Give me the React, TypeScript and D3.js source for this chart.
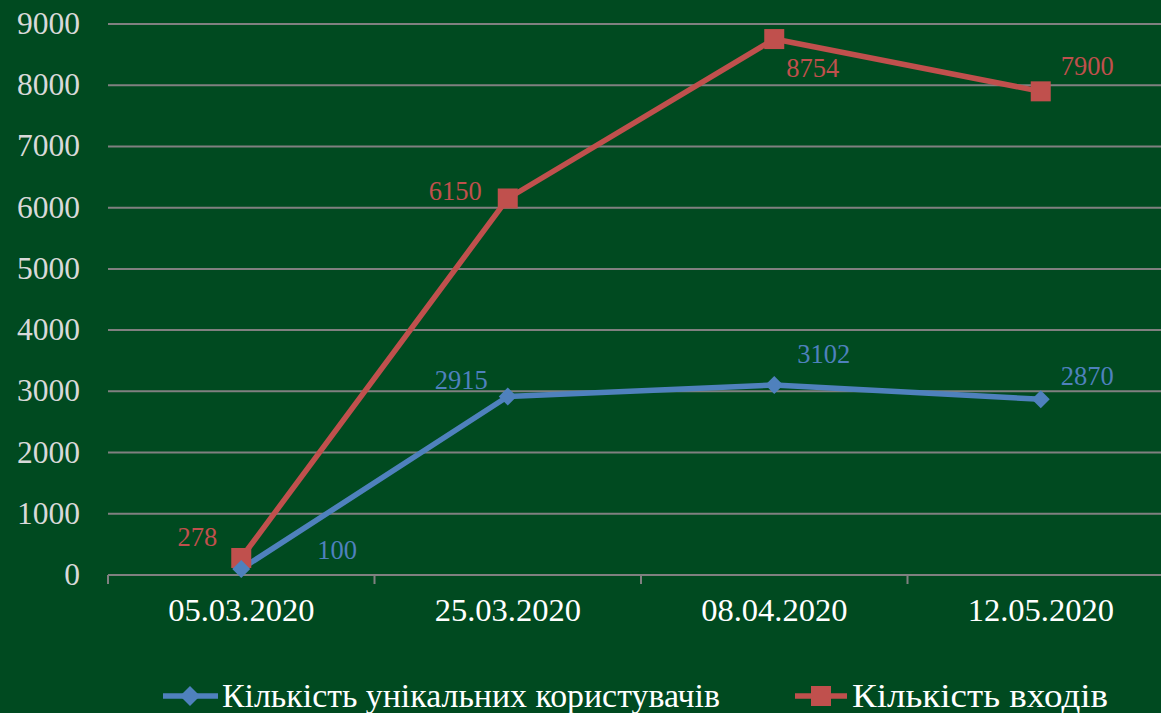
import React from "react";
import * as d3 from "d3";

const categories = ["05.03.2020", "25.03.2020", "08.04.2020", "12.05.2020"];
const uniqueUsers = [100, 2915, 3102, 2870];
const logins = [278, 6150, 8754, 7900];
const yTicks = [0, 1000, 2000, 3000, 4000, 5000, 6000, 7000, 8000, 9000];
const seriesNames = ["Кількість унікальних користувачів", "Кількість входів"];

const W = 1161, H = 713;
const BG = "#004a20";
const BLUE = "#4f81bd";
const RED = "#c0504d";
const GRID = "#808080";
const FONT = "'Liberation Serif', 'Times New Roman', serif";

// label offsets [dx, dy, anchor]
const blueLabelPos: [number, number, string][] = [
  [76, -10, "start"], [-20, -8, "end"], [23, -22, "start"], [20, -14, "start"],
];
const redLabelPos: [number, number, string][] = [
  [-24, -12, "end"], [-26, 2, "end"], [12, 38, "start"], [20, -16, "start"],
];

export default function App() {
  const x = d3.scaleBand<string>().domain(categories).range([108, 1174]).padding(0);
  const y = d3.scaleLinear().domain([0, 9000]).range([575, 24]);
  const cx = (c: string) => (x(c) as number) + x.bandwidth() / 2;
  const line = d3.line<number>().x((_, i) => cx(categories[i])).y((d) => y(d));
  const tickXs = categories.map((c) => x(c) as number).concat([1174]);

  return (
    <svg width={W} height={H} style={{ position: "absolute", left: 0, top: 0, display: "block" }}>
      <rect width={W} height={H} fill={BG} />
      {yTicks.map((t) => (
        <g key={t}>
          {t > 0 && <line x1={108} x2={W} y1={y(t)} y2={y(t)} stroke={GRID} strokeWidth={2} />}
          <text x={80} y={y(t) + 10} textAnchor="end" fill="#d9d9d9" fontFamily={FONT} fontSize={31.5}>
            {t}
          </text>
        </g>
      ))}
      <line x1={108} x2={W} y1={y(0)} y2={y(0)} stroke={GRID} strokeWidth={2} />
      {tickXs.map((tx, i) => (
        <line key={i} x1={tx} x2={tx} y1={y(0)} y2={y(0) + 9} stroke={GRID} strokeWidth={2} />
      ))}
      {categories.map((c) => (
        <text key={c} x={cx(c)} y={621} textAnchor="middle" fill="#ffffff" fontFamily={FONT} fontSize={32.5}>
          {c}
        </text>
      ))}
      <path d={line(logins) || ""} fill="none" stroke={RED} strokeWidth={5.5} strokeLinejoin="round" />
      <path d={line(uniqueUsers) || ""} fill="none" stroke={BLUE} strokeWidth={5.5} strokeLinejoin="round" />
      {logins.map((v, i) => (
        <rect key={i} x={cx(categories[i]) - 10} y={y(v) - 10} width={20} height={20} fill={RED} />
      ))}
      {uniqueUsers.map((v, i) => {
        const px = cx(categories[i]), py = y(v);
        return (
          <path key={i} d={`M${px},${py - 9}L${px + 9},${py}L${px},${py + 9}L${px - 9},${py}Z`} fill={BLUE} />
        );
      })}
      {logins.map((v, i) => (
        <text key={i} x={cx(categories[i]) + redLabelPos[i][0]} y={y(v) + redLabelPos[i][1]}
          textAnchor={redLabelPos[i][2] as any} fill={RED} fontFamily={FONT} fontSize={26.5}>
          {v}
        </text>
      ))}
      {uniqueUsers.map((v, i) => (
        <text key={i} x={cx(categories[i]) + blueLabelPos[i][0]} y={y(v) + blueLabelPos[i][1]}
          textAnchor={blueLabelPos[i][2] as any} fill={BLUE} fontFamily={FONT} fontSize={26.5}>
          {v}
        </text>
      ))}
      {/* legend */}
      <g>
        <line x1={163} x2={218} y1={696} y2={696} stroke={BLUE} strokeWidth={5.5} />
        <path d={`M190,686L200,696L190,706L180,696Z`} fill={BLUE} />
        <text x={222} y={707} fill="#ffffff" fontFamily={FONT} fontSize={34} textLength={498} lengthAdjust="spacingAndGlyphs">{seriesNames[0]}</text>
        <line x1={795} x2={847} y1={696} y2={696} stroke={RED} strokeWidth={5.5} />
        <rect x={811} y={686} width={20} height={20} fill={RED} />
        <text x={852} y={707} fill="#ffffff" fontFamily={FONT} fontSize={34} textLength={256} lengthAdjust="spacingAndGlyphs">{seriesNames[1]}</text>
      </g>
    </svg>
  );
}
